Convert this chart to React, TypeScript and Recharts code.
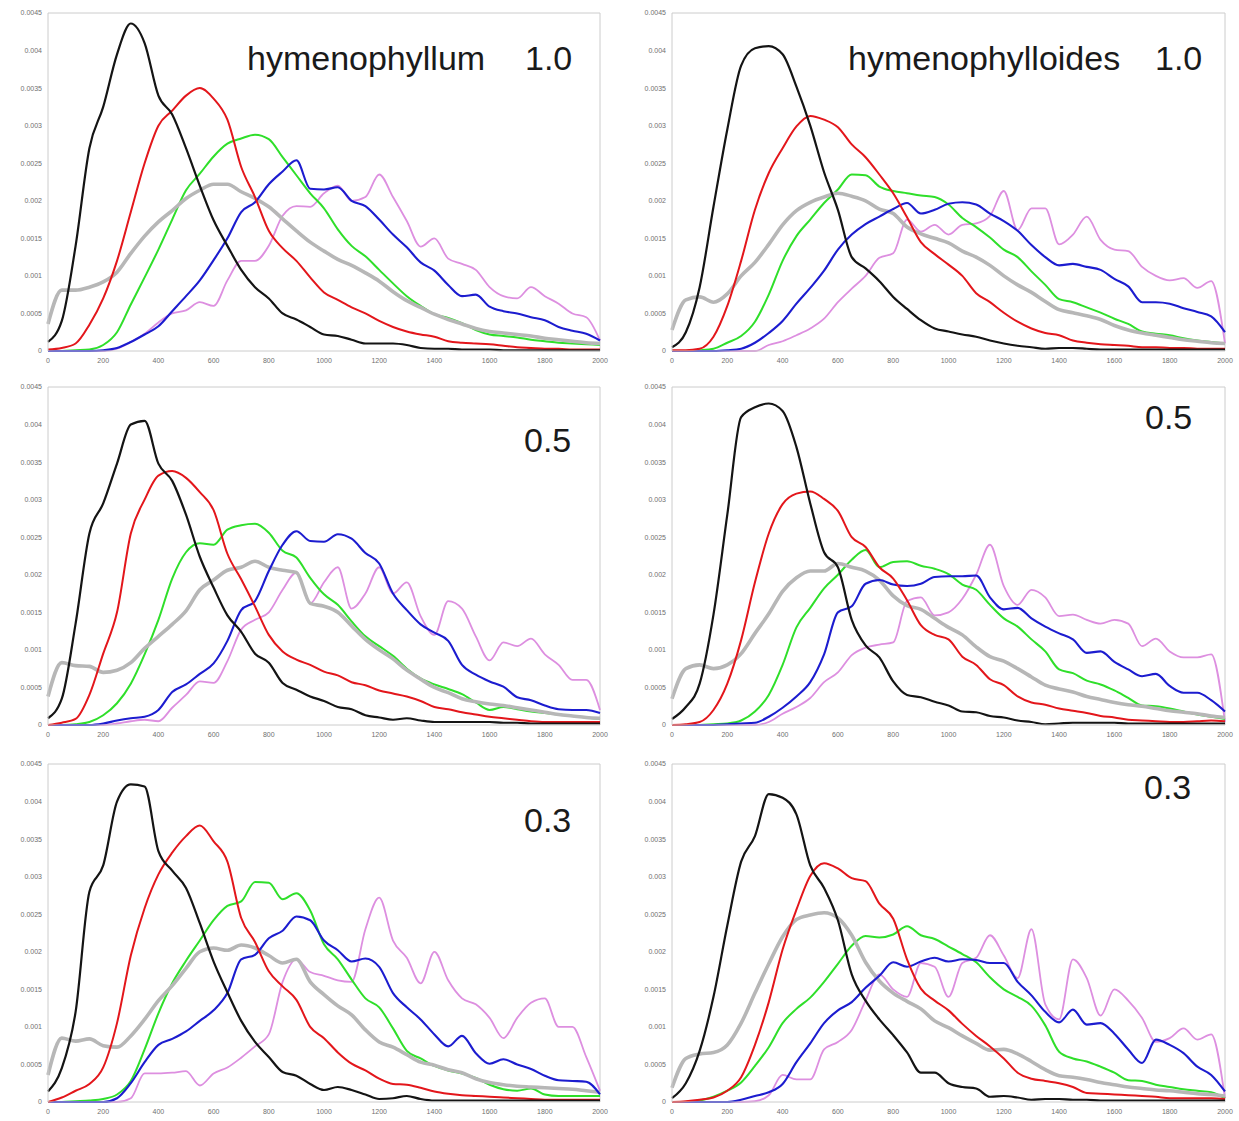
import { LineChart, Line, XAxis, YAxis, ReferenceLine } from 'recharts'

// distance classes on the x axis
const distance = [
  0, 50, 100, 150, 200, 250, 300, 350, 400, 450, 500, 550, 600, 650, 700, 750, 800, 850, 900, 950,
  1000, 1050, 1100, 1150, 1200, 1250, 1300, 1350, 1400, 1450, 1500, 1550, 1600, 1650, 1700, 1750,
  1800, 1850, 1900, 1950, 2000,
]
const xTicks = [0, 200, 400, 600, 800, 1000, 1200, 1400, 1600, 1800, 2000]
// density values are stored in units of 0.0001
const yTicks = [0, 5, 10, 15, 20, 25, 30, 35, 40, 45]
const yTickLabels = ['0', '0.0005', '0.001', '0.0015', '0.002', '0.0025', '0.003', '0.0035', '0.004', '0.0045']

// hymenophyllum 1.0
const hym10Black = [1.2, 4, 14, 27, 32.5, 39.5, 43.6, 41, 34, 31.5, 27, 22, 17.4, 14, 10.8, 8.5, 7, 5, 4.2, 3.2, 2.2, 2, 1.5, 1, 1, 1, 0.8, 0.4, 0.3, 0.3, 0.2, 0.2, 0.2, 0.1, 0.1, 0.1, 0.1, 0.1, 0.1, 0.1, 0.1]
const hym10Red = [0.2, 0.4, 1, 3.5, 7, 12, 18.5, 25, 30, 32, 34, 35, 33.6, 30.8, 24.5, 20.5, 16, 13.7, 12, 9.8, 7.8, 6.8, 5.8, 5, 4, 3.2, 2.6, 2.2, 1.9, 1.3, 1.1, 1, 0.9, 0.7, 0.5, 0.4, 0.3, 0.3, 0.2, 0.2, 0.2]
const hym10Green = [0, 0, 0.1, 0.2, 0.8, 2.5, 6.2, 9.8, 13.5, 17.5, 21.4, 23.6, 25.9, 27.6, 28.3, 28.8, 28.2, 25.8, 23.4, 21, 19, 16.2, 14, 12.6, 10.8, 9, 7.3, 6, 4.9, 4.4, 3.7, 2.8, 2.2, 2, 1.8, 1.5, 1.3, 1.1, 1, 0.9, 0.8]
const hym10Blue = [0, 0, 0, 0, 0.1, 0.4, 1.2, 2.2, 3.3, 5.3, 7.3, 9.4, 12.1, 15, 18.5, 19.8, 22.2, 23.9, 25.4, 21.6, 21.5, 21.8, 20, 19.3, 17.5, 15.5, 13.8, 11.8, 10.7, 8.8, 7.3, 7.5, 5.9, 5.3, 5, 4.5, 4.1, 3.2, 2.7, 2.3, 1.4]
const hym10Violet = [0, 0, 0, 0, 0, 0.3, 1.2, 2.3, 3.8, 5, 5.4, 6.5, 6, 9.4, 12, 12, 14, 18, 19.3, 19.2, 21, 22, 20, 20.5, 23.5, 20.5, 17.3, 13.9, 15, 12.3, 11.6, 10.8, 8.5, 7.3, 7, 8.5, 7.3, 6.3, 5, 4.5, 1.4]
const hym10Gray = [3.6, 8.1, 8.1, 8.5, 9.2, 10.5, 13, 15.3, 17.2, 18.7, 20.3, 21.4, 22.2, 22.2, 21.2, 20.3, 19.2, 17.6, 16, 14.5, 13.3, 12.2, 11.4, 10.4, 9.3, 7.9, 6.7, 5.8, 4.9, 4.2, 3.6, 3, 2.6, 2.4, 2.2, 2, 1.7, 1.5, 1.3, 1.1, 1]

// hymenophylloides 1.0
const hyd10Black = [0.5, 2.5, 8.5, 19.2, 29.5, 38, 40.3, 40.6, 39.5, 35.2, 30, 23.8, 18.8, 12.5, 11, 9.3, 7.2, 5.6, 4.1, 3, 2.6, 2.2, 1.9, 1.4, 1, 0.7, 0.5, 0.3, 0.4, 0.4, 0.3, 0.2, 0.2, 0.2, 0.2, 0.2, 0.2, 0.2, 0.2, 0.2, 0.2]
const hyd10Red = [0.1, 0.1, 0.3, 1.9, 6, 12, 18.8, 23.7, 27, 29.9, 31.3, 30.8, 29.8, 27.5, 25.8, 23.5, 21, 17.8, 14.5, 12.9, 11.5, 10, 7.7, 6.5, 5.1, 3.9, 3, 2.4, 2.1, 1.4, 1.1, 0.9, 0.8, 0.7, 0.5, 0.5, 0.4, 0.4, 0.3, 0.3, 0.3]
const hyd10Green = [0, 0, 0.1, 0.3, 1.1, 2, 3.9, 7.5, 12, 15.3, 17.5, 19.7, 21.5, 23.5, 23.4, 21.9, 21.3, 21, 20.7, 20.5, 19.5, 17.7, 16.5, 15.1, 13.5, 12.5, 10.6, 8.8, 6.9, 6.5, 5.8, 5.1, 4.3, 3.6, 2.6, 2.3, 2.1, 1.7, 1.4, 1.2, 1]
const hyd10Blue = [0, 0, 0, 0, 0.1, 0.3, 1.1, 2.4, 4, 6.3, 8.4, 10.7, 13.5, 15.5, 16.9, 17.9, 18.9, 19.7, 18.3, 18.8, 19.6, 19.8, 19.5, 18.3, 17.3, 16, 14.1, 12.5, 11.4, 11.6, 11.2, 10.8, 9.6, 8.6, 6.5, 6.5, 6.3, 5.7, 5.2, 4.6, 2.5]
const hyd10Violet = [0, 0, 0, 0, 0, 0, 0, 0.8, 1.3, 2.1, 3, 4.3, 6.5, 8.3, 10, 12.4, 13, 17.5, 15.9, 16.8, 15.5, 16.8, 17, 18, 21.3, 16.1, 19, 19, 14.2, 15.5, 17.9, 14.8, 13.5, 13.3, 11.2, 10, 9.4, 9.7, 8.4, 9.3, 1]
const hyd10Gray = [2.8, 6.8, 7.2, 6.5, 7.6, 10, 11.8, 14.2, 16.8, 18.7, 19.8, 20.5, 21, 20.6, 20, 18.9, 18.3, 16.5, 15.6, 15, 14.4, 13.3, 12.5, 11.4, 10, 8.8, 7.8, 6.6, 5.5, 5.1, 4.7, 4.2, 3.4, 2.8, 2.4, 2.1, 1.8, 1.5, 1.3, 1.1, 1]

// hymenophyllum 0.5
const hym05Black = [0.9, 3.5, 13.5, 25.5, 29.5, 34.8, 40, 40.5, 34.8, 32.5, 28, 22.4, 18.3, 14.6, 12.4, 9.5, 8.3, 5.6, 4.7, 3.8, 3.2, 2.4, 2.1, 1.3, 1, 0.7, 0.9, 0.6, 0.4, 0.4, 0.4, 0.4, 0.4, 0.3, 0.3, 0.2, 0.2, 0.2, 0.2, 0.2, 0.2]
const hym05Red = [0, 0.3, 0.8, 4, 9.5, 15, 25.5, 30, 33.2, 33.8, 32.9, 31, 28.6, 22.8, 19.4, 15.8, 12, 9.8, 8.7, 8, 7.1, 6.6, 5.7, 5.3, 4.6, 4.2, 3.8, 3.2, 2.4, 2.1, 1.7, 1.4, 1.1, 0.9, 0.7, 0.5, 0.4, 0.4, 0.4, 0.4, 0.4]
const hym05Green = [0, 0, 0.1, 0.4, 1.3, 2.9, 5.5, 9.4, 14, 19.5, 23, 24.2, 24, 26, 26.6, 26.8, 25.6, 23.2, 22.3, 19.6, 17.4, 16, 13.8, 11.8, 10.5, 9.2, 7.5, 6.2, 5.4, 4.8, 4.1, 3, 2, 2.4, 2.1, 1.8, 1.6, 1.4, 1.2, 1, 0.8]
const hym05Blue = [0, 0, 0, 0, 0.2, 0.6, 0.9, 1.1, 2, 4.4, 5.4, 6.8, 8.2, 11.2, 15.3, 16.5, 20.5, 24, 25.8, 24.5, 24.4, 25.4, 24.8, 22.9, 21.5, 17.5, 15.3, 13.4, 12.3, 11.2, 8, 6.7, 5.8, 5.1, 3.7, 3.3, 2.6, 2.1, 2, 2, 1.6]
const hym05Violet = [0, 0, 0, 0, 0, 0.2, 0.5, 0.7, 0.5, 2.3, 4, 5.8, 5.6, 8.5, 12.7, 14, 15, 18, 20.3, 16.2, 19, 21, 15.5, 17.5, 21, 17.5, 19, 14.5, 12, 16.5, 15.5, 11.8, 8.6, 11, 10.5, 11.5, 9.4, 8, 6, 6, 2]
const hym05Gray = [3.8, 8.3, 7.9, 7.8, 7, 7.3, 8.3, 10.2, 11.8, 13.4, 15.2, 18, 19.3, 20.6, 21, 21.8, 21, 20.6, 20.3, 16.2, 15.8, 15, 13.2, 11.4, 10, 8.8, 7.3, 6.1, 5, 4.3, 3.5, 3.1, 2.8, 2.6, 2.3, 2, 1.7, 1.4, 1.2, 1, 0.9]

// hymenophylloides 0.5
const hyd05Black = [0.8, 2.4, 5.5, 14.7, 28, 41, 42.3, 42.8, 41.8, 37, 29.5, 23, 21, 14, 10.6, 9, 5.8, 4, 3.7, 3.1, 2.6, 1.8, 1.7, 1.2, 1, 0.6, 0.4, 0.1, 0.2, 0.3, 0.3, 0.3, 0.3, 0.2, 0.2, 0.2, 0.2, 0.2, 0.2, 0.2, 0.2]
const hyd05Red = [0, 0.1, 0.4, 2, 5.5, 11.3, 19, 25.5, 29.4, 30.8, 31.1, 30.1, 28.5, 25, 23.7, 21, 19.5, 16.6, 13.3, 12, 11.4, 9.1, 8, 6.1, 5.3, 3.8, 3, 2.7, 2.2, 1.9, 1.6, 1.2, 1, 0.7, 0.6, 0.5, 0.4, 0.4, 0.5, 0.6, 0.5]
const hyd05Green = [0, 0, 0, 0.1, 0.2, 0.6, 1.8, 4, 8, 13, 15.6, 18.2, 20, 22, 23.3, 21, 21.7, 21.8, 21.2, 20.8, 20.1, 18.7, 18, 16, 14.2, 13.1, 11.4, 9.8, 7.4, 6.9, 5.9, 5.4, 4.6, 3.6, 2.6, 2.5, 2.2, 1.8, 1.4, 1.1, 0.8]
const hyd05Blue = [0, 0, 0, 0, 0.1, 0.2, 0.3, 1.1, 2.3, 3.8, 5.7, 9.4, 15, 15.8, 18.8, 19.3, 18.7, 18.5, 18.8, 19.7, 19.8, 19.8, 19.9, 17, 15.4, 15.6, 14.2, 13.1, 12.2, 11.4, 9.6, 9.8, 8.4, 7.4, 6.5, 6.8, 5.2, 4.3, 4.3, 3.3, 1.8]
const hyd05Violet = [0, 0, 0, 0, 0, 0, 0, 0.4, 1.5, 2.4, 3.6, 5.7, 7, 9.3, 10.3, 10.7, 11, 16.5, 17, 14.6, 15, 16.8, 20, 24, 18.5, 16, 18, 17, 14.5, 14.7, 14, 13.5, 14, 13.5, 10.5, 11.5, 9.8, 9, 9, 9.4, 0.4]
const hyd05Gray = [3.5, 7.5, 8, 7.5, 8, 9.5, 12.2, 14.8, 17.8, 19.6, 20.5, 20.5, 21.5, 21, 20.5, 19.3, 17.2, 15.9, 15.4, 14.2, 13, 12, 10.4, 9.1, 8.5, 7.5, 6.4, 5.3, 4.8, 4.4, 3.8, 3.4, 3, 2.7, 2.5, 2.2, 1.9, 1.7, 1.5, 1.2, 1]

// hymenophyllum 0.3
const hym03Black = [1.4, 4.5, 12, 28, 31.5, 40, 42.3, 42, 33.4, 30.8, 28.5, 23.8, 18.7, 14.6, 10.8, 8, 6, 4, 3.5, 2.4, 1.6, 2, 1.6, 1, 0.4, 0.5, 0.8, 0.4, 0.2, 0.2, 0.2, 0.2, 0.2, 0.2, 0.2, 0.2, 0.2, 0.2, 0.2, 0.2, 0.2]
const hym03Red = [0, 0.6, 1.5, 2.4, 4.6, 10.5, 19.5, 25.8, 30.3, 33.2, 35.4, 36.8, 34.7, 32, 24.5, 21.3, 17.4, 15.4, 13.6, 10, 8.5, 6.6, 5.1, 4.2, 3.1, 2.4, 2.3, 1.9, 1.4, 1.1, 0.9, 0.8, 0.7, 0.6, 0.5, 0.4, 0.3, 0.3, 0.3, 0.3, 0.3]
const hym03Green = [0, 0, 0.1, 0.2, 0.4, 1, 2.8, 7, 11.8, 15.8, 18.8, 21.5, 24.2, 26.1, 26.7, 29.3, 29.2, 27, 27.8, 25.5, 21, 19, 16.3, 13.8, 12.6, 9.8, 6.8, 5.8, 4.8, 4.2, 3.8, 3.2, 2.3, 1.7, 1.5, 1.8, 1, 0.8, 0.8, 0.8, 0.8]
const hym03Blue = [0, 0, 0, 0, 0, 0.5, 2.5, 5.3, 7.6, 8.4, 9.4, 10.8, 12.2, 14.5, 19, 19.6, 21.8, 22.8, 24.7, 24.2, 21.5, 20.2, 18.7, 19.1, 18, 14.5, 12.6, 11, 9, 7.4, 8.8, 6.5, 5.1, 5.7, 5, 4.4, 3.5, 2.9, 2.8, 2.7, 1]
const hym03Violet = [0, 0, 0, 0, 0, 0, 0.5, 3.8, 3.8, 3.9, 4.1, 2.2, 3.8, 4.6, 5.9, 7.4, 9, 16, 19, 17.3, 16.8, 16.2, 16, 23, 27.2, 21.5, 19.2, 15.8, 20, 16.2, 13.8, 13, 11.2, 8.5, 11.2, 13.2, 13.8, 10, 10, 6, 1.5]
const hym03Gray = [3.6, 8.5, 8.1, 8.4, 7.5, 7.3, 8.8, 11, 13.5, 15.5, 17.8, 20, 20.5, 20.2, 20.9, 20.5, 19.5, 18.5, 19, 16, 14.3, 12.8, 11.6, 9.6, 8, 7.3, 6.3, 5.3, 4.9, 4.3, 3.9, 3.1, 2.6, 2.3, 2.1, 2, 1.9, 1.8, 1.7, 1.5, 1.3]

// hymenophylloides 0.3
const hyd03Black = [0.5, 2.5, 6.8, 14, 23.5, 32, 35.4, 41, 40.5, 38.3, 31.5, 28.5, 24.2, 17, 13.5, 11, 8.9, 6.6, 3.9, 3.9, 2.5, 2, 1.8, 0.7, 0.8, 0.6, 0.3, 0.4, 0.4, 0.3, 0.3, 0.2, 0.2, 0.2, 0.2, 0.2, 0.2, 0.2, 0.2, 0.2, 0.2]
const hyd03Red = [0, 0.1, 0.3, 0.6, 1.5, 3.3, 7.6, 13.3, 20.3, 25.6, 30.1, 31.8, 31.1, 29.8, 29.4, 26.4, 24.4, 19, 15.1, 13.5, 12.2, 10.4, 8.8, 7.4, 5.8, 3.9, 3.1, 2.8, 2.5, 2, 1.2, 1.1, 1, 0.9, 0.8, 0.7, 0.5, 0.5, 0.5, 0.5, 0.4]
const hyd03Green = [0, 0, 0.2, 0.7, 1.5, 2.6, 4.8, 7.3, 10.5, 12.4, 13.9, 16, 18.4, 20.8, 22.1, 21.9, 22.3, 23.4, 22.2, 21.7, 20.7, 19.7, 18.6, 16.6, 15, 14, 12.8, 10.2, 6.7, 5.8, 5.4, 4.7, 3.9, 2.9, 2.8, 2.3, 2, 1.7, 1.5, 1.3, 0.5]
const hyd03Blue = [0, 0, 0, 0, 0, 0.3, 0.8, 1.3, 2.4, 5.3, 7.8, 10.5, 12.2, 13.3, 15.2, 16.8, 18.6, 18, 18.7, 19.2, 18.7, 19, 18.9, 18.5, 18.5, 16, 14.2, 12, 10.6, 12.3, 10.3, 10.5, 9.1, 7, 5.2, 8.3, 7.6, 6.5, 4.7, 3.6, 1.4]
const hyd03Violet = [0, 0, 0, 0, 0, 0, 0.1, 0.9, 3.6, 3, 3, 7, 8, 9.6, 13.5, 17, 15, 14, 18.5, 18, 14, 18.5, 19.2, 22.2, 19.5, 16.5, 23, 13, 11, 19, 16.5, 11.5, 15, 13.5, 11.2, 8, 8.5, 9.8, 8.3, 9, 0.5]
const hyd03Gray = [1.9, 5.8, 6.4, 6.6, 7.6, 10.5, 14.5, 18.4, 22, 24.3, 24.9, 25.2, 24.5, 22.2, 18.6, 16.1, 14.5, 13.4, 12.4, 10.8, 9.9, 8.8, 7.8, 6.9, 7, 6.4, 5.4, 4.3, 3.5, 3.3, 3, 2.6, 2.3, 2, 1.8, 1.6, 1.5, 1.3, 1.1, 1, 0.8]

// drawing order matters: gray sits above green
const seriesStyle = [
  { key: 'violet', color: '#dd8fe0', width: 1.8 },
  { key: 'green', color: '#2fdf2a', width: 2 },
  { key: 'gray', color: '#b7b7b7', width: 3.6 },
  { key: 'blue', color: '#1c1ccf', width: 2.1 },
  { key: 'red', color: '#e3161b', width: 2 },
  { key: 'black', color: '#141414', width: 2.2 },
]

interface PanelSeries {
  black: number[]
  red: number[]
  green: number[]
  blue: number[]
  violet: number[]
  gray: number[]
}

const buildRows = (s: PanelSeries) =>
  distance.map((x, i) => ({
    x,
    black: s.black[i],
    red: s.red[i],
    green: s.green[i],
    blue: s.blue[i],
    violet: s.violet[i],
    gray: s.gray[i],
  }))

const tickStyle = { fontSize: 7, fill: '#707070', fontFamily: 'Liberation Sans, Arial, sans-serif' }
const boxColor = '#cccccc'

function Panel({ left, top, width, right, series }: { left: number; top: number; width: number; right: number; series: PanelSeries }) {
  const rows = buildRows(series)
  return (
    <div style={{ position: 'absolute', left, top }}>
      <LineChart width={width} height={375} data={rows} margin={{ top: 13, right, bottom: 4, left: 0 }}>
        <XAxis
          dataKey="x"
          type="number"
          domain={[0, 2000]}
          ticks={xTicks}
          interval={0}
          tick={tickStyle}
          tickLine={false}
          tickSize={4}
          tickMargin={3}
          height={20}
          stroke={boxColor}
        />
        <YAxis
          domain={[0, 45]}
          ticks={yTicks}
          interval={0}
          width={48}
          tick={tickStyle}
          tickLine={false}
          tickSize={4}
          tickMargin={2}
          tickFormatter={(v: number) => yTickLabels[yTicks.indexOf(v)] ?? ''}
          stroke={boxColor}
        />
        {/* close the frame on the top and right */}
        <ReferenceLine y={45} stroke={boxColor} strokeWidth={1} ifOverflow="extendDomain" />
        <ReferenceLine x={2000} stroke={boxColor} strokeWidth={1} ifOverflow="extendDomain" />
        {seriesStyle.map(s => (
          <Line
            key={s.key}
            type="monotone"
            dataKey={s.key}
            stroke={s.color}
            strokeWidth={s.width}
            dot={false}
            activeDot={false}
            isAnimationActive={false}
          />
        ))}
      </LineChart>
    </div>
  )
}

const labelFont = 'Liberation Sans, Arial, sans-serif'

export default function App() {
  return (
    <div style={{ position: 'absolute', left: 0, top: 0, width: 1239, height: 1121, background: '#fff', overflow: 'hidden' }}>
      <Panel left={0} top={0} width={620} right={20} series={{ black: hym10Black, red: hym10Red, green: hym10Green, blue: hym10Blue, violet: hym10Violet, gray: hym10Gray }} />
      <Panel left={624} top={0} width={615} right={14} series={{ black: hyd10Black, red: hyd10Red, green: hyd10Green, blue: hyd10Blue, violet: hyd10Violet, gray: hyd10Gray }} />
      <Panel left={0} top={374} width={620} right={20} series={{ black: hym05Black, red: hym05Red, green: hym05Green, blue: hym05Blue, violet: hym05Violet, gray: hym05Gray }} />
      <Panel left={624} top={374} width={615} right={14} series={{ black: hyd05Black, red: hyd05Red, green: hyd05Green, blue: hyd05Blue, violet: hyd05Violet, gray: hyd05Gray }} />
      <Panel left={0} top={751} width={620} right={20} series={{ black: hym03Black, red: hym03Red, green: hym03Green, blue: hym03Blue, violet: hym03Violet, gray: hym03Gray }} />
      <Panel left={624} top={751} width={615} right={14} series={{ black: hyd03Black, red: hyd03Red, green: hyd03Green, blue: hyd03Blue, violet: hyd03Violet, gray: hyd03Gray }} />
      <svg width={1239} height={1121} style={{ position: 'absolute', left: 0, top: 0, pointerEvents: 'none' }}>
        <g fontFamily={labelFont} fontSize={34} fill="#1a1a1a">
          <text x={247} y={70}>hymenophyllum</text>
          <text x={525} y={70}>1.0</text>
          <text x={848} y={70}>hymenophylloides</text>
          <text x={1155} y={70}>1.0</text>
          <text x={524} y={452}>0.5</text>
          <text x={1145} y={429}>0.5</text>
          <text x={524} y={832}>0.3</text>
          <text x={1144} y={799}>0.3</text>
        </g>
      </svg>
    </div>
  )
}
